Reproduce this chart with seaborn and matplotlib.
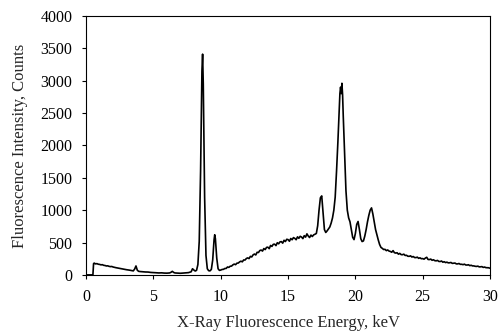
import pandas as pd
import matplotlib
matplotlib.use("Agg")
import matplotlib.pyplot as plt
import seaborn as sns

# low energy part: background, small lines and the two sharp peaks
low_kev = [0.0, 0.5, 0.55, 0.6, 0.7, 0.8, 0.9, 1.0, 1.1, 1.2, 1.3, 1.4, 1.5, 1.6, 1.7, 1.8, 1.9, 2.0,
           2.2, 2.4, 2.6, 2.8, 3.0, 3.2, 3.4, 3.5, 3.6, 3.7, 3.8, 3.9, 4.0, 4.2, 4.4, 4.6, 4.8, 5.0,
           5.2, 5.4, 5.6, 5.8, 6.0, 6.2, 6.3, 6.4, 6.5, 6.6, 6.8, 7.0, 7.2, 7.4, 7.6, 7.8, 7.9, 8.0, 8.1, 8.2,
           8.3, 8.4, 8.5, 8.6, 8.65, 8.7, 8.8, 8.9, 9.0, 9.1, 9.2, 9.3, 9.4, 9.5, 9.55, 9.6, 9.7, 9.8, 9.9]
low_counts = [0, 0, 175, 182, 170, 174, 165, 162, 155, 158, 148, 145, 138, 140, 132, 128, 130, 122,
              112, 104, 96, 88, 80, 74, 66, 62, 90, 138, 72, 55, 52, 48, 45, 44, 38, 36,
              33, 30, 32, 28, 27, 30, 40, 55, 38, 30, 27, 25, 28, 30, 35, 48, 95, 75, 60, 70,
              160, 520, 1600, 3150, 3410, 2950, 1200, 300, 95, 65, 62, 85, 230, 540, 620, 560, 260, 95, 70]

# rising scatter background 10-17 keV
rise_kev = [10.0, 10.1, 10.2, 10.3, 10.4, 10.5, 10.6, 10.7, 10.8, 10.9,
            11.0, 11.1, 11.2, 11.3, 11.4, 11.5, 11.6, 11.7, 11.8, 11.9,
            12.0, 12.1, 12.2, 12.3, 12.4, 12.5, 12.6, 12.7, 12.8, 12.9,
            13.0, 13.1, 13.2, 13.3, 13.4, 13.5, 13.6, 13.7, 13.8, 13.9,
            14.0, 14.1, 14.2, 14.3, 14.4, 14.5, 14.6, 14.7, 14.8, 14.9,
            15.0, 15.1, 15.2, 15.3, 15.4, 15.5, 15.6, 15.7, 15.8, 15.9,
            16.0, 16.1, 16.2, 16.3, 16.4, 16.5, 16.6, 16.7, 16.8, 16.9, 17.0]
rise_counts = [75, 84, 86, 99, 100, 122, 116, 134, 136, 155,
               167, 158, 181, 183, 201, 212, 202, 231, 229, 253,
               263, 252, 286, 277, 309, 322, 308, 349, 346, 376,
               384, 368, 407, 391, 425, 428, 405, 455, 440, 472,
               475, 452, 497, 480, 510, 514, 490, 535, 515, 550,
               545, 520, 562, 543, 576, 564, 543, 588, 565, 596,
               585, 560, 606, 583, 634, 600, 577, 615, 593, 618, 628]

# main peak group 17-22 keV
peak_kev = [17.1, 17.2, 17.3, 17.4, 17.5, 17.6, 17.7, 17.8, 17.9,
            18.0, 18.1, 18.2, 18.3, 18.4, 18.5, 18.6, 18.7, 18.8,
            18.85, 18.9, 18.95, 19.0, 19.05,
            19.1, 19.2, 19.3, 19.4, 19.5, 19.6, 19.7, 19.8, 19.9,
            20.0, 20.1, 20.2, 20.3, 20.4, 20.5, 20.6, 20.7, 20.8, 20.9,
            21.0, 21.1, 21.2, 21.3, 21.4, 21.5, 21.6, 21.7, 21.8, 21.9]
peak_counts = [640, 760, 1000, 1190, 1220, 950, 700, 655, 680,
               710, 740, 800, 880, 1000, 1200, 1600, 2050, 2550,
               2800, 2900, 2800, 2960, 2780,
               2450, 1880, 1300, 1000, 880, 820, 700, 580, 545,
               640, 780, 825, 700, 560, 515, 525, 600, 700, 820,
               920, 1000, 1035, 940, 820, 700, 620, 540, 470, 425]

# high energy tail 22-30 keV
tail_kev = [22.0, 22.1, 22.2, 22.3, 22.4, 22.5, 22.6, 22.7, 22.8, 22.9,
            23.0, 23.1, 23.2, 23.3, 23.4, 23.5, 23.6, 23.7, 23.8, 23.9,
            24.0, 24.1, 24.2, 24.3, 24.4, 24.5, 24.6, 24.7, 24.8, 24.9,
            25.0, 25.1, 25.2, 25.3, 25.4, 25.5, 25.6, 25.7, 25.8, 25.9,
            26.0, 26.1, 26.2, 26.3, 26.4, 26.5, 26.6, 26.7, 26.8, 26.9,
            27.0, 27.1, 27.2, 27.3, 27.4, 27.5, 27.6, 27.7, 27.8, 27.9,
            28.0, 28.1, 28.2, 28.3, 28.4, 28.5, 28.6, 28.7, 28.8, 28.9,
            29.0, 29.1, 29.2, 29.3, 29.4, 29.5, 29.6, 29.7, 29.8, 29.9, 30.0]
tail_counts = [410, 392, 395, 375, 385, 368, 362, 350, 375, 343,
               337, 342, 320, 332, 313, 312, 320, 300, 303, 288,
               287, 294, 276, 284, 268, 267, 274, 256, 264, 250,
               252, 243, 260, 272, 238, 237, 244, 226, 234, 220,
               217, 224, 208, 207, 214, 196, 204, 190, 197, 186,
               187, 192, 178, 180, 183, 170, 170, 176, 163, 164,
               158, 166, 153, 152, 157, 143, 149, 139, 139, 133,
               131, 135, 124, 125, 128, 116, 121, 112, 111, 110, 103]

x_ticks = [0, 5, 10, 15, 20, 25, 30]
y_ticks = [0, 500, 1000, 1500, 2000, 2500, 3000, 3500, 4000]

spectrum = pd.DataFrame({
    "energy": low_kev + rise_kev + peak_kev + tail_kev,
    "counts": low_counts + rise_counts + peak_counts + tail_counts,
})

sns.set_style("ticks")
plt.rcParams["font.family"] = ["Liberation Serif", "DejaVu Serif"]

fig = plt.figure(figsize=(5.01, 3.32), dpi=100)
ax = fig.add_axes([0.172, 0.172, 0.806, 0.78])

sns.lineplot(data=spectrum, x="energy", y="counts", color="black",
             linewidth=1.2, sort=False, ax=ax)

ax.set_xlim(0, 30)
ax.set_ylim(0, 4000)
ax.set_xticks(x_ticks)
ax.set_yticks(y_ticks)
ax.set_xlabel("X-Ray Fluorescence Energy, keV", fontsize=12, labelpad=7)
ax.set_ylabel("Fluorescence Intensity, Counts", fontsize=12, labelpad=9)
ax.tick_params(direction="out", length=3, width=0.8, colors="black",
               labelsize=11.5, pad=7)
for s in ax.spines.values():
    s.set_visible(True)
    s.set_color("black")
    s.set_linewidth(0.8)

fig.savefig("out.png", dpi=100)
